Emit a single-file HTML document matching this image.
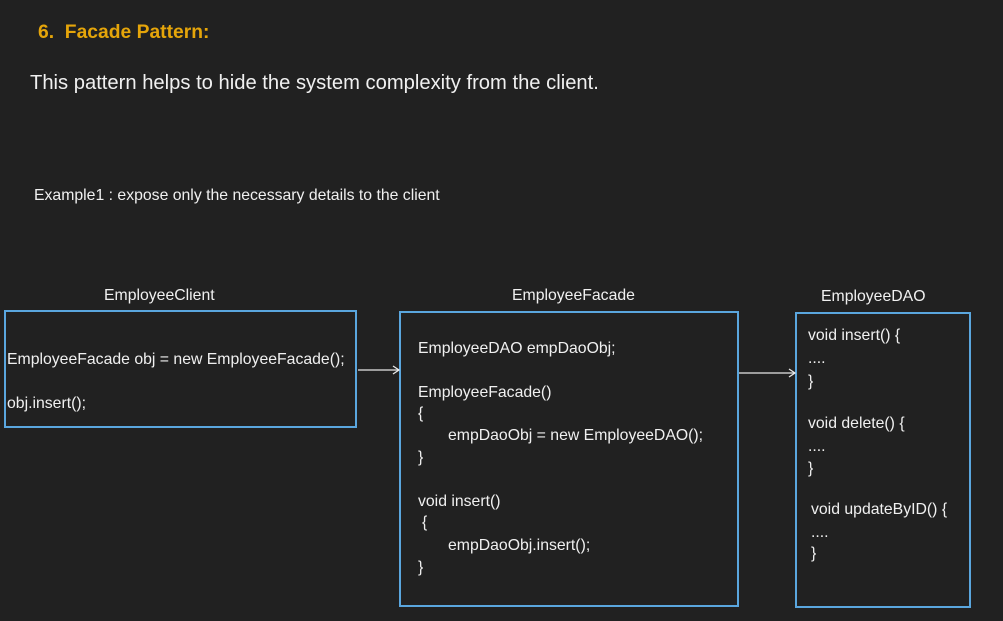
<!DOCTYPE html>
<html><head><style>
body{margin:0;width:1003px;height:621px;background:#212121;position:relative;overflow:hidden;font-family:"Liberation Sans",sans-serif;color:#f0f0f0}
.t{position:absolute;white-space:nowrap;font-size:15.8px;line-height:18px}
.b{position:absolute;border:2px solid #5aa6de;box-sizing:border-box}
</style></head><body>
<div class="t" style="left:38px;top:21px;font-size:19.3px;line-height:23px;font-weight:bold;color:#e5a50a">6.&nbsp; Facade Pattern:</div>
<div class="t" style="left:30px;top:71px;font-size:20.2px;line-height:24px">This pattern helps to hide the system complexity from the client.</div>
<div class="t" style="left:34px;top:187px;font-size:15.8px">Example1 : expose only the necessary details to the client</div>

<div class="t" style="left:104px;top:287px">EmployeeClient</div>
<div class="t" style="left:512px;top:287px">EmployeeFacade</div>
<div class="t" style="left:821px;top:288px">EmployeeDAO</div>

<div class="b" style="left:4px;top:310px;width:353px;height:118px"></div>
<div class="b" style="left:399px;top:311px;width:340px;height:296px"></div>
<div class="b" style="left:795px;top:312px;width:176px;height:296px"></div>

<div class="t" style="left:7px;top:351px">EmployeeFacade obj = new EmployeeFacade();</div>
<div class="t" style="left:7px;top:395px">obj.insert();</div>

<div class="t" style="left:418px;top:340px">EmployeeDAO empDaoObj;</div>
<div class="t" style="left:418px;top:384px">EmployeeFacade()</div>
<div class="t" style="left:418px;top:405px">{</div>
<div class="t" style="left:448px;top:427px">empDaoObj = new EmployeeDAO();</div>
<div class="t" style="left:418px;top:449px">}</div>
<div class="t" style="left:418px;top:493px">void insert()</div>
<div class="t" style="left:422px;top:514px">{</div>
<div class="t" style="left:448px;top:537px">empDaoObj.insert();</div>
<div class="t" style="left:418px;top:559px">}</div>

<div class="t" style="left:808px;top:327px">void insert() {</div>
<div class="t" style="left:808px;top:350px">....</div>
<div class="t" style="left:808px;top:373px">}</div>
<div class="t" style="left:808px;top:415px">void delete() {</div>
<div class="t" style="left:808px;top:438px">....</div>
<div class="t" style="left:808px;top:460px">}</div>
<div class="t" style="left:811px;top:501px">void updateByID() {</div>
<div class="t" style="left:811px;top:524px">....</div>
<div class="t" style="left:811px;top:545px">}</div>

<svg width="1003" height="621" style="position:absolute;left:0;top:0">
<g stroke="#e8e8e8" stroke-width="1.3" fill="none">
<line x1="358" y1="370" x2="399" y2="370"/><polyline points="393,366 399,370 393,374"/>
<line x1="739" y1="373" x2="795" y2="373"/><polyline points="789,369 795,373 789,377"/>
</g></svg>
</body></html>
